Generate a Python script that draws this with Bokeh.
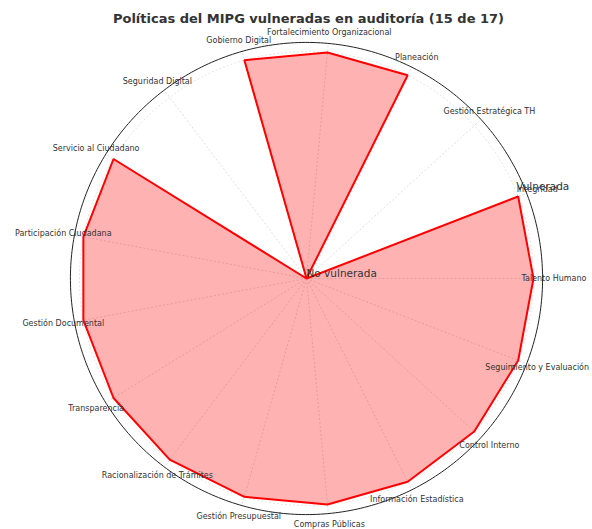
import numpy as np
from bokeh.plotting import figure
from bokeh.models import Range1d
from bokeh.core.properties import value
from bokeh.embed import file_html
from bokeh.resources import INLINE

title_text = "Políticas del MIPG vulneradas en auditoría (15 de 17)"
categories = [
    "Talento Humano", "Integridad", "Gestión Estratégica TH", "Planeación",
    "Fortalecimiento Organizacional", "Gobierno Digital", "Seguridad Digital",
    "Servicio al Ciudadano", "Participación Ciudadana", "Gestión Documental",
    "Transparencia", "Racionalización de Trámites", "Gestión Presupuestal",
    "Compras Públicas", "Información Estadística", "Control Interno",
    "Seguimiento y Evaluación",
]
vulnerada = [1, 1, 0, 1, 1, 1, 0, 1, 1, 1, 1, 1, 1, 1, 1, 1, 1]
r_ticks = [0, 1]
r_tick_labels = ["No vulnerada", "Vulnerada"]
r_max = 1.04

W, H = 592, 529
scale = 227.0
cx, cy = 306.0, 278.0

p = figure(width=W, height=H, output_backend="svg", toolbar_location=None,
           min_border=0, x_range=Range1d(-cx / scale, (W - cx) / scale),
           y_range=Range1d(-(H - cy) / scale, cy / scale))
p.axis.visible = False
p.grid.visible = False
p.outline_line_color = None

n = len(categories)
theta = np.arange(n) * 2 * np.pi / n

# spokes
for t in theta:
    p.line([0, r_max * np.cos(t)], [0, r_max * np.sin(t)], line_color="#d6d6d6",
           line_width=0.8, line_dash="2 2")

# circle grid at r=1
tt = np.linspace(0, 2 * np.pi, 400)
p.line(np.cos(tt) * r_ticks[1], np.sin(tt) * r_ticks[1], line_color="#dddddd",
       line_width=0.8, line_dash="2 2")

# spine
p.line(np.cos(tt) * r_max, np.sin(tt) * r_max, line_color="#222222", line_width=1)

vals = np.array(vulnerada, dtype=float)
xs = list(vals * np.cos(theta)) + [vals[0] * np.cos(theta[0])]
ys = list(vals * np.sin(theta)) + [vals[0] * np.sin(theta[0])]
p.patch(xs, ys, fill_color="#ff0000", fill_alpha=0.3, line_color=None)
p.line(xs, ys, line_color="#ff0000", line_width=2)

# category labels
rl = 1.09
p.text(x=list(rl * np.cos(theta)), y=list(rl * np.sin(theta)), text=categories,
       text_font=value("DejaVu Sans"), text_font_size="8px", text_color="#333333",
       text_align="center", text_baseline="middle")

# radial labels
ang = np.deg2rad(22.5)
p.text(x=[r * np.cos(ang) for r in r_ticks], y=[r * np.sin(ang) for r in r_ticks],
       text=r_tick_labels, text_font=value("DejaVu Sans"), text_font_size="10.5px",
       text_color="#333333", text_align="left", text_baseline="bottom")

# title
p.text(x=[(308 - cx) / scale], y=[(cy - 18) / scale], text=[title_text],
       text_font=value("DejaVu Sans"), text_font_size="13px", text_font_style="bold",
       text_color="#333333", text_align="center", text_baseline="middle")

open("out.html", "w").write(file_html(p, INLINE))
